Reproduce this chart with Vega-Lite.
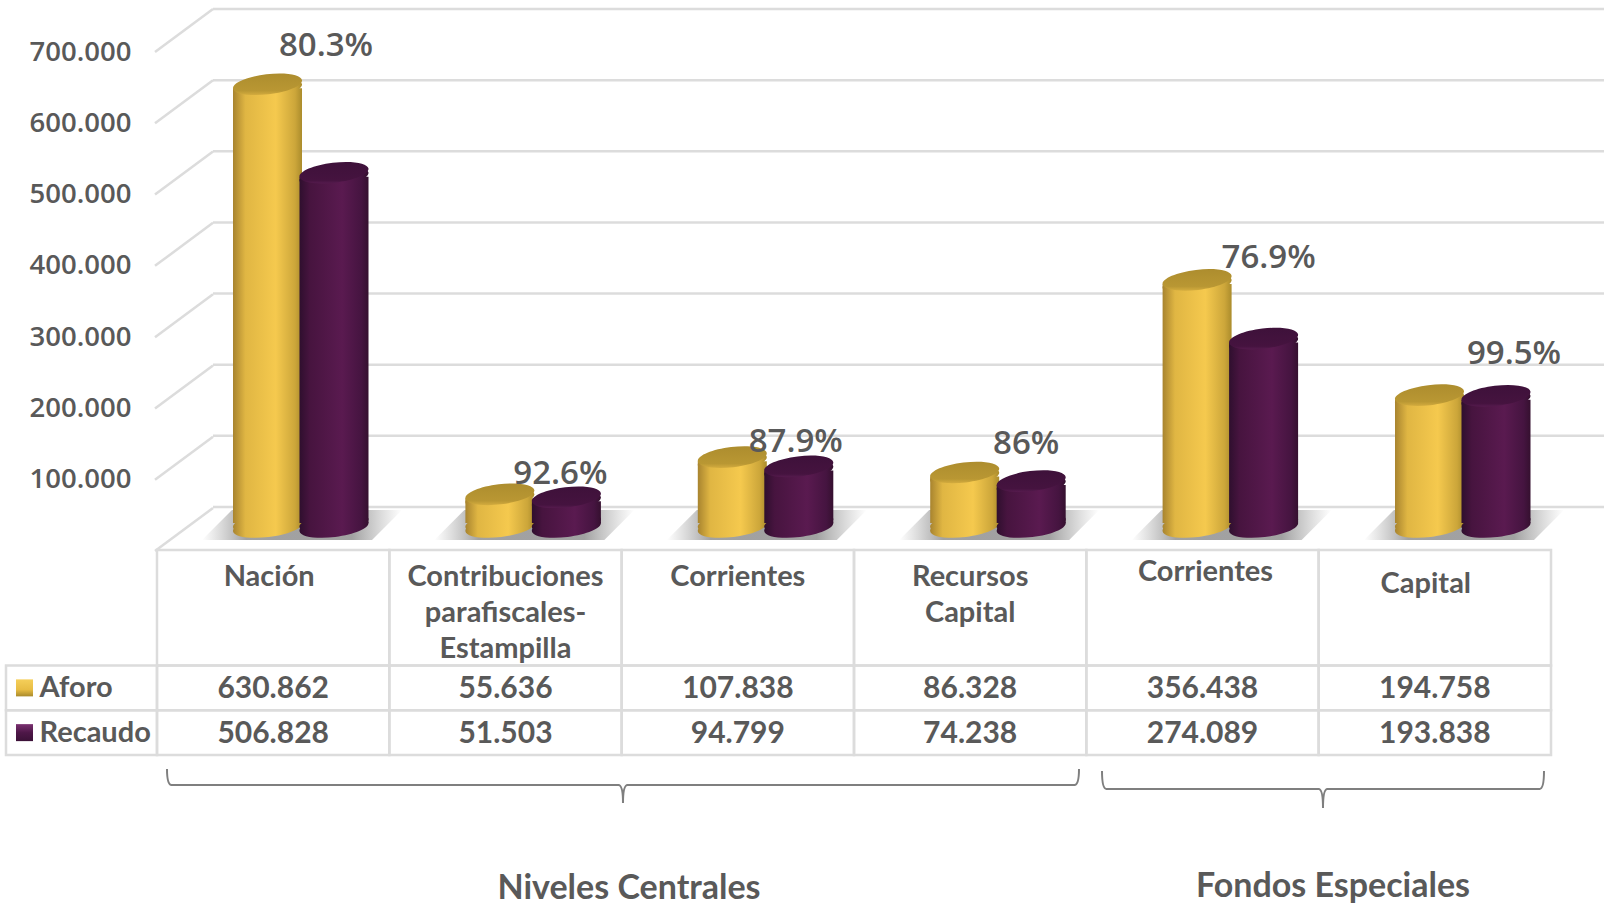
{"$schema":"https://vega.github.io/schema/vega-lite/v6.json","width":1604,"height":907,"autosize":{"type":"fit","contains":"padding"},"padding":0,"background":"white","config":{"view":{"stroke":null},"locale":{"number":{"decimal":",","thousands":".","grouping":[3],"currency":["$",""]}}},
"datasets":{
"rubros":[{"id":"Nación","rubro":"Nación","aforo":630862,"ejec":"80.3%"},{"id":"Contribuciones","rubro":"Contribuciones\nparafiscales-\nEstampilla","aforo":55636,"ejec":"92.6%"},{"id":"Corrientes NC","rubro":"Corrientes","aforo":107838,"ejec":"87.9%"},{"id":"Recursos Capital","rubro":"Recursos\nCapital","aforo":86328,"ejec":"86%"},{"id":"Corrientes FE","rubro":"Corrientes","aforo":356438,"ejec":"76.9%"},{"id":"Capital","rubro":"Capital","aforo":194758,"ejec":"99.5%"}],
"valores":[{"id":"Nación","serie":"Aforo","valor":630862},{"id":"Contribuciones","serie":"Aforo","valor":55636},{"id":"Corrientes NC","serie":"Aforo","valor":107838},{"id":"Recursos Capital","serie":"Aforo","valor":86328},{"id":"Corrientes FE","serie":"Aforo","valor":356438},{"id":"Capital","serie":"Aforo","valor":194758},{"id":"Nación","serie":"Recaudo","valor":506828},{"id":"Contribuciones","serie":"Recaudo","valor":51503},{"id":"Corrientes NC","serie":"Recaudo","valor":94799},{"id":"Recursos Capital","serie":"Recaudo","valor":74238},{"id":"Corrientes FE","serie":"Recaudo","valor":274089},{"id":"Capital","serie":"Recaudo","valor":193838}],
"ticks":[{"t":0},{"t":100000},{"t":200000},{"t":300000},{"t":400000},{"t":500000},{"t":600000},{"t":700000}],
"series":[{"serie":"Aforo"},{"serie":"Recaudo"}]
},
"resolve":{"scale":{"x":"independent","y":"independent","color":"independent"},"axis":{"x":"independent","y":"independent"}},
"layer":[
{"data":{"name":"ticks"},"mark":{"type":"rule","stroke":"#dcdcdc","strokeWidth":2.5},"encoding":{"y":{"field":"t","type":"quantitative","scale":{"domain":[0,700000],"range":[507,9]},"axis":null},"x":{"datum":"a","type":"nominal","axis":null,"scale":{"type":"point","padding":0,"domain":["a","b"],"range":[213,1604]}},"x2":{"datum":"b"}}},
{"data":{"name":"ticks"},"mark":{"type":"rule","stroke":"#dcdcdc","strokeWidth":2.5,"y2Offset":-43},"encoding":{"y":{"field":"t","type":"quantitative","scale":{"domain":[0,700000],"range":[551,52]},"axis":{"values":[100000,200000,300000,400000,500000,600000,700000],"format":",.0f","domain":false,"ticks":false,"grid":false,"title":null,"offset":-131,"labelPadding":0,"labelFont":"Open Sans","labelFontSize":27.5,"labelFontWeight":600,"labelColor":"#595959"}},"y2":{"field":"t"},"x":{"datum":"a","type":"nominal","axis":null,"scale":{"type":"point","padding":0,"domain":["a","b"],"range":[155,213]}},"x2":{"datum":"b"}}},
{"data":{"name":"rubros"},"mark":{"type":"point","filled":true,"size":40000,"yOffset":-3,"shape":"M-1,0.15 L0.7,0.15 L1,-0.15 L-0.7,-0.15 Z","fill":{"gradient":"linear","x1":0,"y1":0,"x2":1,"y2":0,"stops":[{"offset":0,"color":"rgba(150,150,150,0)"},{"offset":0.22,"color":"rgba(130,130,130,0.75)"},{"offset":0.75,"color":"rgba(130,130,130,0.75)"},{"offset":1,"color":"rgba(150,150,150,0)"}]},"opacity":1},"encoding":{"x":{"field":"id","type":"nominal","sort":null,"axis":null,"scale":{"type":"point","padding":0,"range":[302,1464]}},"y":{"datum":0,"type":"quantitative","axis":null,"scale":{"domain":[0,700000],"range":[528,34.5]}}}},
{"data":{"name":"valores"},"transform":[{"filter":"datum.serie==='Aforo'"}],"mark":{"type":"point","filled":true,"opacity":1,"size":4761,"yOffset":-7,"shape":"M-1,0.12 C-0.981,0.28 -0.517,0.356 0.035,0.29 C0.588,0.224 1.019,0.04 1,-0.12 C0.981,-0.28 0.517,-0.356 -0.035,-0.29 C-0.588,-0.224 -1.019,-0.04 -1,0.12 Z","fill":{"gradient":"linear","x1":0,"y1":0,"x2":1,"y2":0,"stops":[{"offset":0,"color":"#a8842f"},{"offset":0.18,"color":"#e0b643"},{"offset":0.62,"color":"#f5c94e"},{"offset":0.9,"color":"#cca63a"},{"offset":1,"color":"#ab8c2c"}]}},"encoding":{"x":{"field":"id","type":"nominal","sort":null,"axis":null,"scale":{"type":"point","padding":0,"range":[267.5,1429.5]}},"y":{"datum":0,"type":"quantitative","axis":null,"scale":{"domain":[0,700000],"range":[534,35]}}}},
{"data":{"name":"valores"},"transform":[{"filter":"datum.serie==='Aforo'"}],"mark":{"type":"point","filled":true,"opacity":1,"size":4761,"yOffset":-11,"shape":"M-1,0.12 C-0.981,0.28 -0.517,0.356 0.035,0.29 C0.588,0.224 1.019,0.04 1,-0.12 C0.981,-0.28 0.517,-0.356 -0.035,-0.29 C-0.588,-0.224 -1.019,-0.04 -1,0.12 Z","fill":{"gradient":"linear","x1":0,"y1":0,"x2":1,"y2":0,"stops":[{"offset":0,"color":"#a8842f"},{"offset":0.18,"color":"#e0b643"},{"offset":0.62,"color":"#f5c94e"},{"offset":0.9,"color":"#cca63a"},{"offset":1,"color":"#ab8c2c"}]}},"encoding":{"x":{"field":"id","type":"nominal","sort":null,"axis":null,"scale":{"type":"point","padding":0,"range":[267.5,1429.5]}},"y":{"datum":0,"type":"quantitative","axis":null,"scale":{"domain":[0,700000],"range":[534,35]}}}},
{"data":{"name":"valores"},"transform":[{"filter":"datum.serie==='Aforo'"}],"mark":{"type":"bar","width":69,"yOffset":4,"y2Offset":-11,"fill":{"gradient":"linear","x1":0,"y1":0,"x2":1,"y2":0,"stops":[{"offset":0,"color":"#a8842f"},{"offset":0.18,"color":"#e0b643"},{"offset":0.62,"color":"#f5c94e"},{"offset":0.9,"color":"#cca63a"},{"offset":1,"color":"#ab8c2c"}]}},"encoding":{"x":{"field":"id","type":"nominal","sort":null,"axis":null,"scale":{"type":"point","padding":0,"range":[267.5,1429.5]}},"y":{"field":"valor","type":"quantitative","axis":null,"scale":{"domain":[0,700000],"range":[534,35]}},"y2":{"datum":0}}},
{"data":{"name":"valores"},"transform":[{"filter":"datum.serie==='Aforo'"}],"mark":{"type":"point","filled":true,"opacity":1,"size":4761,"yOffset":4,"shape":"M-1,0.12 C-0.981,0.28 -0.517,0.356 0.035,0.29 C0.588,0.224 1.019,0.04 1,-0.12 C0.981,-0.28 0.517,-0.356 -0.035,-0.29 C-0.588,-0.224 -1.019,-0.04 -1,0.12 Z","fill":{"gradient":"linear","x1":0,"y1":0,"x2":1,"y2":0,"stops":[{"offset":0,"color":"#a8842f"},{"offset":0.18,"color":"#e0b643"},{"offset":0.62,"color":"#f5c94e"},{"offset":0.9,"color":"#cca63a"},{"offset":1,"color":"#ab8c2c"}]}},"encoding":{"x":{"field":"id","type":"nominal","sort":null,"axis":null,"scale":{"type":"point","padding":0,"range":[267.5,1429.5]}},"y":{"field":"valor","type":"quantitative","axis":null,"scale":{"domain":[0,700000],"range":[534,35]}}}},
{"data":{"name":"valores"},"transform":[{"filter":"datum.serie==='Aforo'"}],"mark":{"type":"point","filled":true,"opacity":1,"fill":{"gradient":"linear","x1":0,"y1":0,"x2":0,"y2":1,"stops":[{"offset":0,"color":"#ad8d2e"},{"offset":0.8,"color":"#b99733"},{"offset":1,"color":"#d4ac3e"}]},"size":4761,"shape":"M-1,0.12 C-0.981,0.28 -0.517,0.356 0.035,0.29 C0.588,0.224 1.019,0.04 1,-0.12 C0.981,-0.28 0.517,-0.356 -0.035,-0.29 C-0.588,-0.224 -1.019,-0.04 -1,0.12 Z"},"encoding":{"x":{"field":"id","type":"nominal","sort":null,"axis":null,"scale":{"type":"point","padding":0,"range":[267.5,1429.5]}},"y":{"field":"valor","type":"quantitative","axis":null,"scale":{"domain":[0,700000],"range":[534,35]}}}},
{"data":{"name":"valores"},"transform":[{"filter":"datum.serie==='Recaudo'"}],"mark":{"type":"point","filled":true,"opacity":1,"size":4761,"yOffset":-7,"shape":"M-1,0.12 C-0.981,0.28 -0.517,0.356 0.035,0.29 C0.588,0.224 1.019,0.04 1,-0.12 C0.981,-0.28 0.517,-0.356 -0.035,-0.29 C-0.588,-0.224 -1.019,-0.04 -1,0.12 Z","fill":{"gradient":"linear","x1":0,"y1":0,"x2":1,"y2":0,"stops":[{"offset":0,"color":"#2f0f2e"},{"offset":0.15,"color":"#47143f"},{"offset":0.62,"color":"#5a1a50"},{"offset":0.9,"color":"#451440"},{"offset":1,"color":"#35102f"}]}},"encoding":{"x":{"field":"id","type":"nominal","sort":null,"axis":null,"scale":{"type":"point","padding":0,"range":[334,1496]}},"y":{"datum":0,"type":"quantitative","axis":null,"scale":{"domain":[0,700000],"range":[534,35]}}}},
{"data":{"name":"valores"},"transform":[{"filter":"datum.serie==='Recaudo'"}],"mark":{"type":"point","filled":true,"opacity":1,"size":4761,"yOffset":-11,"shape":"M-1,0.12 C-0.981,0.28 -0.517,0.356 0.035,0.29 C0.588,0.224 1.019,0.04 1,-0.12 C0.981,-0.28 0.517,-0.356 -0.035,-0.29 C-0.588,-0.224 -1.019,-0.04 -1,0.12 Z","fill":{"gradient":"linear","x1":0,"y1":0,"x2":1,"y2":0,"stops":[{"offset":0,"color":"#2f0f2e"},{"offset":0.15,"color":"#47143f"},{"offset":0.62,"color":"#5a1a50"},{"offset":0.9,"color":"#451440"},{"offset":1,"color":"#35102f"}]}},"encoding":{"x":{"field":"id","type":"nominal","sort":null,"axis":null,"scale":{"type":"point","padding":0,"range":[334,1496]}},"y":{"datum":0,"type":"quantitative","axis":null,"scale":{"domain":[0,700000],"range":[534,35]}}}},
{"data":{"name":"valores"},"transform":[{"filter":"datum.serie==='Recaudo'"}],"mark":{"type":"bar","width":69,"yOffset":4,"y2Offset":-11,"fill":{"gradient":"linear","x1":0,"y1":0,"x2":1,"y2":0,"stops":[{"offset":0,"color":"#2f0f2e"},{"offset":0.15,"color":"#47143f"},{"offset":0.62,"color":"#5a1a50"},{"offset":0.9,"color":"#451440"},{"offset":1,"color":"#35102f"}]}},"encoding":{"x":{"field":"id","type":"nominal","sort":null,"axis":null,"scale":{"type":"point","padding":0,"range":[334,1496]}},"y":{"field":"valor","type":"quantitative","axis":null,"scale":{"domain":[0,700000],"range":[534,35]}},"y2":{"datum":0}}},
{"data":{"name":"valores"},"transform":[{"filter":"datum.serie==='Recaudo'"}],"mark":{"type":"point","filled":true,"opacity":1,"size":4761,"yOffset":4,"shape":"M-1,0.12 C-0.981,0.28 -0.517,0.356 0.035,0.29 C0.588,0.224 1.019,0.04 1,-0.12 C0.981,-0.28 0.517,-0.356 -0.035,-0.29 C-0.588,-0.224 -1.019,-0.04 -1,0.12 Z","fill":{"gradient":"linear","x1":0,"y1":0,"x2":1,"y2":0,"stops":[{"offset":0,"color":"#2f0f2e"},{"offset":0.15,"color":"#47143f"},{"offset":0.62,"color":"#5a1a50"},{"offset":0.9,"color":"#451440"},{"offset":1,"color":"#35102f"}]}},"encoding":{"x":{"field":"id","type":"nominal","sort":null,"axis":null,"scale":{"type":"point","padding":0,"range":[334,1496]}},"y":{"field":"valor","type":"quantitative","axis":null,"scale":{"domain":[0,700000],"range":[534,35]}}}},
{"data":{"name":"valores"},"transform":[{"filter":"datum.serie==='Recaudo'"}],"mark":{"type":"point","filled":true,"opacity":1,"fill":{"gradient":"linear","x1":0,"y1":0,"x2":0,"y2":1,"stops":[{"offset":0,"color":"#3e113a"},{"offset":0.85,"color":"#45133f"},{"offset":1,"color":"#561b4e"}]},"size":4761,"shape":"M-1,0.12 C-0.981,0.28 -0.517,0.356 0.035,0.29 C0.588,0.224 1.019,0.04 1,-0.12 C0.981,-0.28 0.517,-0.356 -0.035,-0.29 C-0.588,-0.224 -1.019,-0.04 -1,0.12 Z"},"encoding":{"x":{"field":"id","type":"nominal","sort":null,"axis":null,"scale":{"type":"point","padding":0,"range":[334,1496]}},"y":{"field":"valor","type":"quantitative","axis":null,"scale":{"domain":[0,700000],"range":[534,35]}}}},
{"data":{"name":"rubros"},"transform":[{"filter":"datum.id==='Nación'"}],"mark":{"type":"text","font":"Open Sans","fontSize":33,"fontWeight":600,"fill":"#595959","dx":-8,"dy":-37},"encoding":{"text":{"field":"ejec"},"x":{"field":"id","type":"nominal","axis":null,"scale":{"type":"point","padding":0,"domain":["Nación","Contribuciones","Corrientes NC","Recursos Capital","Corrientes FE","Capital"],"range":[334,1496]}},"y":{"field":"aforo","type":"quantitative","axis":null,"scale":{"domain":[0,700000],"range":[528,34.5]}}}},
{"data":{"name":"rubros"},"transform":[{"filter":"datum.id==='Contribuciones'"}],"mark":{"type":"text","font":"Open Sans","fontSize":33,"fontWeight":600,"fill":"#595959","dx":-6,"dy":-15},"encoding":{"text":{"field":"ejec"},"x":{"field":"id","type":"nominal","axis":null,"scale":{"type":"point","padding":0,"domain":["Nación","Contribuciones","Corrientes NC","Recursos Capital","Corrientes FE","Capital"],"range":[334,1496]}},"y":{"field":"aforo","type":"quantitative","axis":null,"scale":{"domain":[0,700000],"range":[528,34.5]}}}},
{"data":{"name":"rubros"},"transform":[{"filter":"datum.id==='Corrientes NC'"}],"mark":{"type":"text","font":"Open Sans","fontSize":33,"fontWeight":600,"fill":"#595959","dx":-3,"dy":-10},"encoding":{"text":{"field":"ejec"},"x":{"field":"id","type":"nominal","axis":null,"scale":{"type":"point","padding":0,"domain":["Nación","Contribuciones","Corrientes NC","Recursos Capital","Corrientes FE","Capital"],"range":[334,1496]}},"y":{"field":"aforo","type":"quantitative","axis":null,"scale":{"domain":[0,700000],"range":[528,34.5]}}}},
{"data":{"name":"rubros"},"transform":[{"filter":"datum.id==='Recursos Capital'"}],"mark":{"type":"text","font":"Open Sans","fontSize":33,"fontWeight":600,"fill":"#595959","dx":-5,"dy":-23},"encoding":{"text":{"field":"ejec"},"x":{"field":"id","type":"nominal","axis":null,"scale":{"type":"point","padding":0,"domain":["Nación","Contribuciones","Corrientes NC","Recursos Capital","Corrientes FE","Capital"],"range":[334,1496]}},"y":{"field":"aforo","type":"quantitative","axis":null,"scale":{"domain":[0,700000],"range":[528,34.5]}}}},
{"data":{"name":"rubros"},"transform":[{"filter":"datum.id==='Corrientes FE'"}],"mark":{"type":"text","font":"Open Sans","fontSize":33,"fontWeight":600,"fill":"#595959","dx":5,"dy":-19},"encoding":{"text":{"field":"ejec"},"x":{"field":"id","type":"nominal","axis":null,"scale":{"type":"point","padding":0,"domain":["Nación","Contribuciones","Corrientes NC","Recursos Capital","Corrientes FE","Capital"],"range":[334,1496]}},"y":{"field":"aforo","type":"quantitative","axis":null,"scale":{"domain":[0,700000],"range":[528,34.5]}}}},
{"data":{"name":"rubros"},"transform":[{"filter":"datum.id==='Capital'"}],"mark":{"type":"text","font":"Open Sans","fontSize":33,"fontWeight":600,"fill":"#595959","dx":18,"dy":-37},"encoding":{"text":{"field":"ejec"},"x":{"field":"id","type":"nominal","axis":null,"scale":{"type":"point","padding":0,"domain":["Nación","Contribuciones","Corrientes NC","Recursos Capital","Corrientes FE","Capital"],"range":[334,1496]}},"y":{"field":"aforo","type":"quantitative","axis":null,"scale":{"domain":[0,700000],"range":[528,34.5]}}}},
{"data":{"name":"rubros"},"mark":{"type":"rect","fill":"white","fillOpacity":0,"stroke":"#dcdcdc","strokeWidth":2.5},"encoding":{"x":{"field":"id","type":"nominal","sort":null,"axis":null,"scale":{"type":"band","padding":0,"range":[157,1551]}},"y":{"datum":"h","type":"nominal","axis":null,"scale":{"type":"band","padding":0,"domain":["h"],"range":[550,665.5]}}}},
{"data":{"name":"valores"},"mark":{"type":"rect","fill":"white","fillOpacity":0,"stroke":"#dcdcdc","strokeWidth":2.5},"encoding":{"x":{"field":"id","type":"nominal","sort":null,"axis":null,"scale":{"type":"band","padding":0,"range":[157,1551]}},"y":{"field":"serie","type":"nominal","axis":null,"scale":{"type":"band","padding":0,"domain":["Aforo","Recaudo"],"range":[665.5,755]}}}},
{"data":{"name":"series"},"mark":{"type":"rect","fill":"white","fillOpacity":0,"stroke":"#dcdcdc","strokeWidth":2.5},"encoding":{"x":{"datum":"s","type":"nominal","axis":null,"scale":{"type":"band","padding":0,"domain":["s"],"range":[6,157]}},"y":{"field":"serie","type":"nominal","axis":null,"scale":{"type":"band","padding":0,"domain":["Aforo","Recaudo"],"range":[665.5,755]}}}},
{"data":{"name":"series"},"transform":[{"filter":"datum.serie==='Aforo'"}],"mark":{"type":"point","shape":"square","filled":true,"opacity":1,"size":289,"xOffset":-57,"fill":{"gradient":"linear","x1":0,"y1":0,"x2":0,"y2":1,"stops":[{"offset":0,"color":"#f5cf5a"},{"offset":0.6,"color":"#e8bd44"},{"offset":1,"color":"#a98a2c"}]}},"encoding":{"x":{"datum":"s","type":"nominal","axis":null,"scale":{"type":"band","padding":0,"domain":["s"],"range":[6,157]}},"y":{"field":"serie","type":"nominal","axis":null,"scale":{"type":"band","padding":0,"domain":["Aforo","Recaudo"],"range":[665.5,755]}}}},
{"data":{"name":"series"},"transform":[{"filter":"datum.serie==='Recaudo'"}],"mark":{"type":"point","shape":"square","filled":true,"opacity":1,"size":289,"xOffset":-57,"fill":{"gradient":"linear","x1":0,"y1":0,"x2":0,"y2":1,"stops":[{"offset":0,"color":"#7a3070"},{"offset":0.5,"color":"#4e1748"},{"offset":1,"color":"#3b1137"}]}},"encoding":{"x":{"datum":"s","type":"nominal","axis":null,"scale":{"type":"band","padding":0,"domain":["s"],"range":[6,157]}},"y":{"field":"serie","type":"nominal","axis":null,"scale":{"type":"band","padding":0,"domain":["Aforo","Recaudo"],"range":[665.5,755]}}}},
{"data":{"name":"series"},"mark":{"type":"text","align":"left","baseline":"middle","dx":-42,"font":"Lato","fontSize":29,"fontWeight":"bold","fill":"#595959"},"encoding":{"text":{"field":"serie"},"x":{"datum":"s","type":"nominal","axis":null,"scale":{"type":"band","padding":0,"domain":["s"],"range":[6,157]}},"y":{"field":"serie","type":"nominal","axis":null,"scale":{"type":"band","padding":0,"domain":["Aforo","Recaudo"],"range":[665.5,755]}}}},
{"data":{"name":"valores"},"mark":{"type":"text","baseline":"middle","dy":1,"font":"Lato","fontSize":30,"fontWeight":"bold","fill":"#595959"},"encoding":{"text":{"field":"valor","format":",.0f"},"x":{"field":"id","type":"nominal","sort":null,"axis":null,"scale":{"type":"band","padding":0,"range":[157,1551]}},"y":{"field":"serie","type":"nominal","axis":null,"scale":{"type":"band","padding":0,"domain":["Aforo","Recaudo"],"range":[665.5,755]}}}},
{"data":{"name":"rubros"},"transform":[{"filter":"datum.id==='Contribuciones'||datum.id==='Corrientes NC'||datum.id==='Recursos Capital'"}],"mark":{"type":"text","baseline":"top","lineBreak":"\n","lineHeight":36,"dy":-45,"font":"Lato","fontSize":29,"fontWeight":"bold","fill":"#595959"},"encoding":{"text":{"field":"rubro"},"x":{"field":"id","type":"nominal","axis":null,"scale":{"type":"band","padding":0,"domain":["Nación","Contribuciones","Corrientes NC","Recursos Capital","Corrientes FE","Capital"],"range":[157,1551]}},"y":{"datum":"h","type":"nominal","axis":null,"scale":{"type":"band","padding":0,"domain":["h"],"range":[550,665.5]}}}},
{"data":{"name":"rubros"},"transform":[{"filter":"datum.id==='Nación'"}],"mark":{"type":"text","baseline":"top","dy":-45,"dx":-4,"font":"Lato","fontSize":29,"fontWeight":"bold","fill":"#595959"},"encoding":{"text":{"field":"rubro"},"x":{"field":"id","type":"nominal","axis":null,"scale":{"type":"band","padding":0,"domain":["Nación","Contribuciones","Corrientes NC","Recursos Capital","Corrientes FE","Capital"],"range":[157,1551]}},"y":{"datum":"h","type":"nominal","axis":null,"scale":{"type":"band","padding":0,"domain":["h"],"range":[550,665.5]}}}},
{"data":{"name":"rubros"},"transform":[{"filter":"datum.id==='Corrientes FE'"}],"mark":{"type":"text","baseline":"top","dy":-50,"dx":3,"font":"Lato","fontSize":29,"fontWeight":"bold","fill":"#595959"},"encoding":{"text":{"field":"rubro"},"x":{"field":"id","type":"nominal","axis":null,"scale":{"type":"band","padding":0,"domain":["Nación","Contribuciones","Corrientes NC","Recursos Capital","Corrientes FE","Capital"],"range":[157,1551]}},"y":{"datum":"h","type":"nominal","axis":null,"scale":{"type":"band","padding":0,"domain":["h"],"range":[550,665.5]}}}},
{"data":{"name":"rubros"},"transform":[{"filter":"datum.id==='Capital'"}],"mark":{"type":"text","baseline":"top","dy":-38,"dx":-9,"font":"Lato","fontSize":29,"fontWeight":"bold","fill":"#595959"},"encoding":{"text":{"field":"rubro"},"x":{"field":"id","type":"nominal","axis":null,"scale":{"type":"band","padding":0,"domain":["Nación","Contribuciones","Corrientes NC","Recursos Capital","Corrientes FE","Capital"],"range":[157,1551]}},"y":{"datum":"h","type":"nominal","axis":null,"scale":{"type":"band","padding":0,"domain":["h"],"range":[550,665.5]}}}},
{"data":{"values":[{"grupo":"Niveles Centrales"}]},"mark":{"type":"point","filled":false,"opacity":1,"stroke":"#7f7f7f","strokeWidth":2,"size":831744,"shape":"M-1,-0.035 Q-1,0 -0.99,0 L-0.01,0 Q0,0 0,0.0395 Q0,0 0.01,0 L0.99,0 Q1,0 1,-0.035"},"encoding":{"x":{"field":"grupo","type":"nominal","axis":null,"scale":{"type":"point","padding":0,"range":[623,623]}},"y":{"field":"grupo","type":"nominal","axis":null,"scale":{"type":"point","padding":0,"range":[785,785]}}}},
{"data":{"values":[{"grupo":"Fondos Especiales"}]},"mark":{"type":"point","filled":false,"opacity":1,"stroke":"#7f7f7f","strokeWidth":2,"size":195364,"shape":"M-1,-0.081 Q-1,0 -0.98,0 L-0.02,0 Q0,0 0,0.086 Q0,0 0.02,0 L0.98,0 Q1,0 1,-0.081"},"encoding":{"x":{"field":"grupo","type":"nominal","axis":null,"scale":{"type":"point","padding":0,"range":[1323,1323]}},"y":{"field":"grupo","type":"nominal","axis":null,"scale":{"type":"point","padding":0,"range":[789,789]}}}},
{"data":{"values":[{"grupo":"Niveles  Centrales"}]},"mark":{"type":"text","baseline":"middle","font":"Lato","fontSize":34,"fontWeight":"bold","fill":"#595959"},"encoding":{"text":{"field":"grupo"},"x":{"field":"grupo","type":"nominal","axis":null,"scale":{"type":"point","padding":0,"range":[629,629]}},"y":{"field":"grupo","type":"nominal","axis":null,"scale":{"type":"point","padding":0,"range":[889,889]}}}},
{"data":{"values":[{"grupo":"Fondos Especiales"}]},"mark":{"type":"text","baseline":"middle","font":"Lato","fontSize":34,"fontWeight":"bold","fill":"#595959"},"encoding":{"text":{"field":"grupo"},"x":{"field":"grupo","type":"nominal","axis":null,"scale":{"type":"point","padding":0,"range":[1333,1333]}},"y":{"field":"grupo","type":"nominal","axis":null,"scale":{"type":"point","padding":0,"range":[887,887]}}}}
]}
